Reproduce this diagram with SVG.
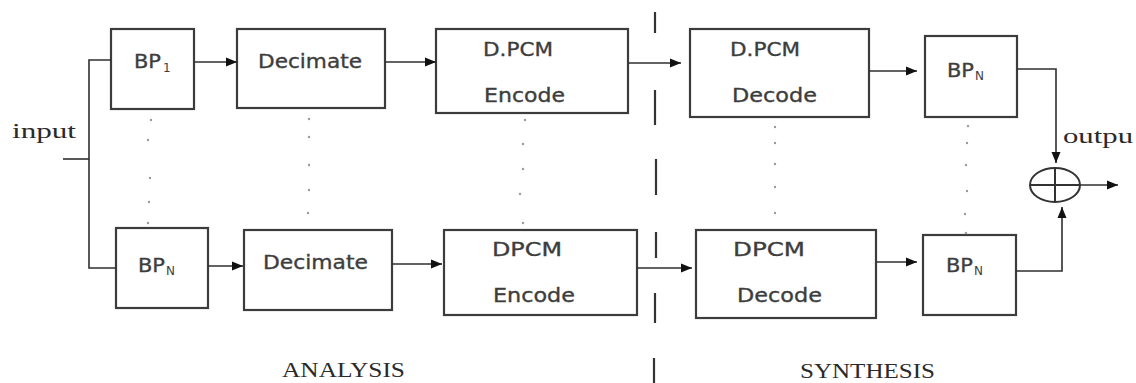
<svg xmlns="http://www.w3.org/2000/svg" width="1136" height="383" viewBox="0 0 1136 383">
<style>
.box{fill:#fff;stroke:#3c3c3c;stroke-width:2.2}
.lbl{font-family:"DejaVu Sans",sans-serif;font-size:20px;fill:#3d3d3d;stroke:#3d3d3d;stroke-width:0.35}
.sub{font-family:"DejaVu Sans",sans-serif;font-size:12px;fill:#3d3d3d}
.ser{font-family:"Liberation Serif",serif;font-size:20px;fill:#2a2a2a}
.con{fill:none;stroke:#2f2f2f;stroke-width:1.6}
.div{stroke:#333;stroke-width:2.2}
.dot{fill:#9a9a9a}
</style>
<defs>
<marker id="ah" markerUnits="userSpaceOnUse" markerWidth="12" markerHeight="10" refX="11" refY="5" orient="auto">
<path d="M0,0.5 L11,5 L0,9.5 Z" fill="#111"/>
</marker>
</defs>
<rect width="1136" height="383" fill="#fff"/>

<g id="bp1"><rect class="box" x="111" y="29" width="83" height="80"/><text class="lbl" x="134" y="68" textLength="27" lengthAdjust="spacingAndGlyphs">BP</text><text class="sub" x="163" y="72">1</text></g>
<g id="dec1"><rect class="box" x="237" y="29" width="148" height="79"/><text class="lbl" x="258" y="68" textLength="104" lengthAdjust="spacingAndGlyphs">Decimate</text></g>
<g id="enc1"><rect class="box" x="436" y="29" width="192" height="84"/><text class="lbl" x="483" y="56" textLength="70" lengthAdjust="spacingAndGlyphs">D.PCM</text><text class="lbl" x="484" y="102" textLength="81" lengthAdjust="spacingAndGlyphs">Encode</text></g>
<g id="decod1"><rect class="box" x="690" y="29" width="179" height="88"/><text class="lbl" x="730" y="56" textLength="70" lengthAdjust="spacingAndGlyphs">D.PCM</text><text class="lbl" x="732" y="102" textLength="85" lengthAdjust="spacingAndGlyphs">Decode</text></g>
<g id="bpn1"><rect class="box" x="925" y="36" width="92" height="81"/><text class="lbl" x="947" y="77" textLength="27" lengthAdjust="spacingAndGlyphs">BP</text><text class="sub" x="975" y="80">N</text></g>

<g id="bpn2"><rect class="box" x="116" y="228" width="92" height="80"/><text class="lbl" x="138" y="272" textLength="27" lengthAdjust="spacingAndGlyphs">BP</text><text class="sub" x="166" y="275">N</text></g>
<g id="dec2"><rect class="box" x="244" y="230" width="148" height="80"/><text class="lbl" x="263" y="269" textLength="105" lengthAdjust="spacingAndGlyphs">Decimate</text></g>
<g id="enc2"><rect class="box" x="444" y="230" width="193" height="85"/><text class="lbl" x="492" y="256" textLength="70" lengthAdjust="spacingAndGlyphs">DPCM</text><text class="lbl" x="493" y="302" textLength="82" lengthAdjust="spacingAndGlyphs">Encode</text></g>
<g id="decod2"><rect class="box" x="696" y="230" width="180" height="88"/><text class="lbl" x="733" y="256" textLength="72" lengthAdjust="spacingAndGlyphs">DPCM</text><text class="lbl" x="737" y="302" textLength="85" lengthAdjust="spacingAndGlyphs">Decode</text></g>
<g id="bpn3"><rect class="box" x="923" y="235" width="93" height="80"/><text class="lbl" x="946" y="272" textLength="27" lengthAdjust="spacingAndGlyphs">BP</text><text class="sub" x="974" y="275">N</text></g>

<g id="sum"><ellipse cx="1055" cy="185" rx="25" ry="17" fill="#fff" stroke="#333" stroke-width="2"/><line x1="1030" y1="185" x2="1080" y2="185" stroke="#333" stroke-width="2"/><line x1="1055" y1="168" x2="1055" y2="202" stroke="#333" stroke-width="2"/></g>

<g id="connectors">
<path class="con" d="M63,159 H89"/>
<path class="con" d="M111,60 H89 V268 H116" stroke-width="2"/>
<path class="con" d="M194,62 H237" marker-end="url(#ah)"/>
<path class="con" d="M385,62 H436" marker-end="url(#ah)"/>
<path class="con" d="M628,63 H681" marker-end="url(#ah)"/>
<path class="con" d="M869,71 H917" marker-end="url(#ah)"/>
<path class="con" d="M1017,69 H1056 V163" stroke-width="2" marker-end="url(#ah)"/>
<path class="con" d="M208,266 H243" marker-end="url(#ah)"/>
<path class="con" d="M392,264 H442" marker-end="url(#ah)"/>
<path class="con" d="M637,268 H692" marker-end="url(#ah)"/>
<path class="con" d="M876,262 H917" marker-end="url(#ah)"/>
<path class="con" d="M1016,271 H1062 V207" stroke-width="2" marker-end="url(#ah)"/>
<path class="con" d="M1080,185 H1118" marker-end="url(#ah)"/>
</g>

<g id="divider">
<line class="div" x1="655" y1="12" x2="655" y2="33"/>
<line class="div" x1="655" y1="90" x2="655" y2="125"/>
<line class="div" x1="656" y1="159" x2="656" y2="195"/>
<line class="div" x1="656" y1="232" x2="656" y2="258"/>
<line class="div" x1="655" y1="293" x2="655" y2="323"/>
<line class="div" x1="654" y1="358" x2="654" y2="383"/>
</g>

<g id="dots">
<circle class="dot" cx="151" cy="120" r="1.2"/><circle class="dot" cx="148" cy="140" r="1.2"/><circle class="dot" cx="150" cy="178" r="1.2"/><circle class="dot" cx="149" cy="202" r="1.2"/><circle class="dot" cx="148" cy="223" r="1.2"/>
<circle class="dot" cx="309" cy="119" r="1.2"/><circle class="dot" cx="309" cy="137" r="1.2"/><circle class="dot" cx="309" cy="165" r="1.2"/><circle class="dot" cx="309" cy="190" r="1.2"/><circle class="dot" cx="308" cy="213" r="1.2"/>
<circle class="dot" cx="525" cy="120" r="1.2"/><circle class="dot" cx="523" cy="144" r="1.2"/><circle class="dot" cx="523" cy="169" r="1.2"/><circle class="dot" cx="520" cy="194" r="1.2"/><circle class="dot" cx="523" cy="223" r="1.2"/>
<circle class="dot" cx="775" cy="127" r="1.2"/><circle class="dot" cx="775" cy="143" r="1.2"/><circle class="dot" cx="775" cy="164" r="1.2"/><circle class="dot" cx="775" cy="187" r="1.2"/><circle class="dot" cx="775" cy="213" r="1.2"/>
<circle class="dot" cx="968" cy="126" r="1.2"/><circle class="dot" cx="967" cy="143" r="1.2"/><circle class="dot" cx="966" cy="165" r="1.2"/><circle class="dot" cx="967" cy="191" r="1.2"/><circle class="dot" cx="965" cy="214" r="1.2"/><circle class="dot" cx="966" cy="233" r="1.2"/>
</g>

<g id="labels">
<text class="ser" x="12" y="138" textLength="64" lengthAdjust="spacingAndGlyphs">input</text>
<text class="ser" x="1063" y="143" textLength="70" lengthAdjust="spacingAndGlyphs">outpu</text>
<text class="ser" x="282" y="377" textLength="123" lengthAdjust="spacingAndGlyphs" font-size="19">ANALYSIS</text>
<text class="ser" x="800" y="378" textLength="135" lengthAdjust="spacingAndGlyphs" font-size="19">SYNTHESIS</text>
</g>
</svg>
